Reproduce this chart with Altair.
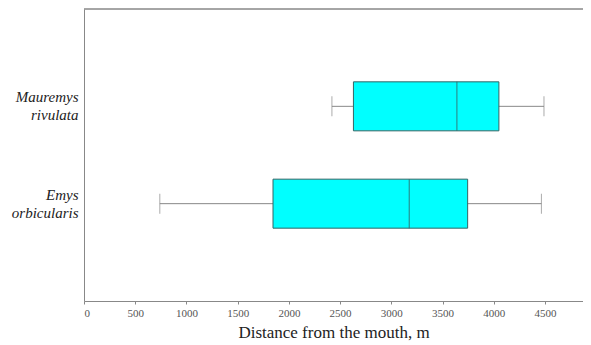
import altair as alt
import pandas as pd

species = ["Mauremys rivulata", "Emys orbicularis"]
mins = [2420, 740]
q1 = [2630, 1845]
medians = [3640, 3175]
q3 = [4050, 3745]
maxs = [4490, 4465]

df = pd.DataFrame({"species": species, "lo": mins, "q1": q1, "med": medians, "q3": q3, "hi": maxs})

W, H = 499, 292
xscale = alt.Scale(domain=[0, 4871], nice=False, zero=True)
yscale = alt.Scale(domain=species, paddingInner=0, paddingOuter=0.5)

ycommon = alt.Y("species:N", scale=yscale, title=None,
                axis=alt.Axis(labelExpr="split(datum.label, ' ')", labelFont="Liberation Serif",
                              labelFontStyle="italic", labelFontSize=15, labelColor="#222",
                              labelLineHeight=18, ticks=False, domainColor="#888",
                              labelPadding=6, labelAlign="right", labelBaseline="middle",
                              labelOffset=-9))
xcommon = alt.X("lo:Q", scale=xscale, title="Distance from the mouth, m",
                axis=alt.Axis(values=list(range(0, 5000, 500)), format="d", grid=False, tickSize=3,
                              tickColor="#888", domainColor="#888", labelFont="Liberation Serif",
                              labelFontSize=11, labelColor="#555", labelPadding=3,
                              titleFont="Liberation Serif", titleFontSize=17, titleFontWeight="normal",
                              titleColor="#222", titlePadding=6))

base = alt.Chart(df)
whisk = base.mark_rule(color="#888", strokeWidth=1).encode(x=xcommon, x2="hi:Q", y=ycommon)
cap_lo = base.mark_tick(color="#888", size=20, thickness=1, orient="vertical").encode(
    x=alt.X("lo:Q", scale=xscale), y=alt.Y("species:N", scale=yscale))
cap_hi = base.mark_tick(color="#888", size=20, thickness=1, orient="vertical").encode(
    x=alt.X("hi:Q", scale=xscale), y=alt.Y("species:N", scale=yscale))
box = base.mark_bar(color="#00FFFF", stroke="#356565", strokeWidth=1, size=49).encode(
    x=alt.X("q1:Q", scale=xscale), x2="q3:Q", y=alt.Y("species:N", scale=yscale))
med = base.mark_tick(color="#356565", size=49, thickness=1.2, orient="vertical").encode(
    x=alt.X("med:Q", scale=xscale), y=alt.Y("species:N", scale=yscale))
topline = alt.Chart(df).mark_rule(color="#888", strokeWidth=1).encode(
    x=alt.value(0), x2=alt.value(W), y=alt.value(0))

chart = alt.layer(whisk, cap_lo, cap_hi, box, med, topline).properties(
    width=W, height=H,
    autosize=alt.AutoSizeParams(type="none"),
    padding={"left": 76, "top": 1, "right": 0, "bottom": 44},
).configure_view(stroke=None).configure_axis(domainWidth=1)

chart.save("out.html", embed_options={"renderer": "svg", "actions": False})
